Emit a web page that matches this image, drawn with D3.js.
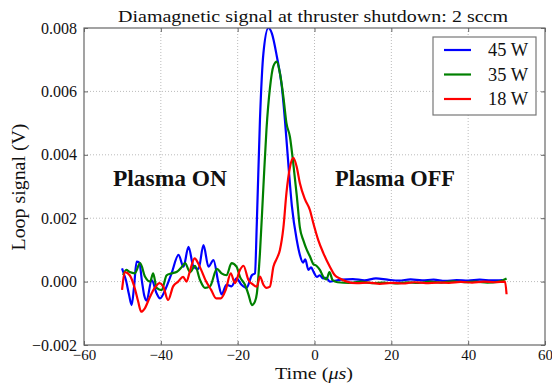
<!DOCTYPE html>
<html><head><meta charset="utf-8">
<script src="https://cdn.jsdelivr.net/npm/d3@7"></script>
<style>body{margin:0;background:#fff}svg{display:block}svg text{font-family:"Liberation Serif","Times New Roman",serif !important;fill:#111}</style>
</head><body><svg id="c" width="552" height="383"></svg>
<script>
const xTicks = [-60,-40,-20,0,20,40,60];
const yTicks = [-0.002,0,0.002,0.004,0.006,0.008];
const seriesNames = ["45 W","35 W","18 W"];
const seriesColors = ["#0000ff","#008000","#ff0000"];

const t45 = [-50.1,-49.5,-49.1,-48.3,-47.6,-47.0,-46.3,-45.6,-44.9,-44.3,-43.7,-42.4,-41.1,-40.2,-38.9,-37.2,-35.4,-34.1,-32.8,-31.5,-30.2,-28.9,-27.6,-26.3,-25.0,-24.2,-22.9,-21.6,-20.3,-19.0,-17.7,-16.3,-15.5,-15.0,-14.2,-13.3,-12.0,-11.1,-9.8,-8.5,-7.7,-6.8,-5.9,-4.6,-3.8,-3.0,-2.4,-1.6,-0.9,-0.2,0.6,1.4,2.2,3.0,4.0,5.0,7,10,13,16,19,22,25,28,31,34,37,40,43,46,49];
const v45 = [0.00042,0.0002,0.00005,-0.0004,-0.00074,-0.0002,0.00063,0.0006,0.0,-0.00045,-0.0006,0.00005,-0.00037,-0.00053,-0.00027,0.00026,0.00084,0.00047,0.0011,0.00047,0.0004,0.00115,0.00047,0.00068,-0.00005,-0.0004,-0.0001,-0.00015,0.0001,-0.0001,-0.0002,0.0002,0.00026,0.0019,0.0051,0.0072,0.0080,0.00783,0.0071,0.00615,0.0051,0.0037,0.0024,0.0013,0.00084,0.0006,0.0007,0.00037,0.00045,0.0003,0.00015,0.0002,0.0001,0.00012,0.0,0.00002,0.00006,0.00008,0.00004,0.0001,0.00006,0.00003,0.00007,0.00004,0.00006,0.00002,0.00005,0.00003,0.00006,0.00004,0.00005];

const t35 = [-49.8,-49.0,-48.1,-46.8,-45.4,-44.1,-42.8,-42.0,-41.1,-39.8,-38.5,-37.2,-35.8,-34.5,-33.7,-32.4,-31.1,-29.8,-28.5,-27.2,-25.4,-24.2,-22.9,-21.6,-20.3,-19.4,-18.1,-17.2,-16.3,-15.5,-15.0,-14.2,-13.3,-12.5,-11.6,-10.7,-9.8,-9.0,-8.1,-7.3,-6.4,-5.5,-4.6,-3.8,-2.9,-2.0,-1.2,-0.3,0.5,1.4,2.3,3.1,3.9,4.7,6,9,12,15,18,21,24,27,30,33,36,39,42,45,48,50];
const v35 = [0.0002,0.00037,0.0003,0.00026,0.00058,0.00015,0.0,0.00026,-0.0002,-0.00027,0.0002,0.00026,0.00031,0.00047,0.00058,0.0003,0.0005,0.00005,-0.0002,-0.00015,0.0004,0.00026,0.0002,0.00058,0.00047,0.00015,-0.0001,-0.0004,-0.00074,-0.00063,-0.00037,0.0009,0.003,0.0048,0.0061,0.0068,0.00694,0.00657,0.00583,0.005,0.00457,0.0037,0.0027,0.0017,0.0013,0.001,0.0008,0.00055,0.0005,0.00037,0.00015,0.00007,0.0003,0.00005,-0.00002,-0.00004,0.0,-0.00005,-0.00003,-0.00006,-0.00002,-0.00004,0.0,-0.00003,0.00001,-0.00002,0.0,-0.00003,0.0,0.0001];

const t18 = [-50.1,-49.3,-48.1,-46.8,-45.9,-45.1,-44.2,-42.9,-41.6,-40.3,-39.4,-38.1,-36.8,-35.5,-34.2,-33.3,-32.5,-31.2,-30.3,-29.5,-28.2,-26.9,-25.6,-24.4,-23.1,-21.8,-20.7,-19.4,-18.5,-17.2,-15.9,-15.0,-14.2,-13.3,-12.5,-11.6,-10.7,-9.8,-9.0,-8.1,-7.3,-6.4,-5.5,-4.6,-3.8,-2.5,-1.2,-0.3,1.0,2.3,4.0,5.3,6.6,8.4,11,14,17,20,23,26,29,32,35,38,41,44,47,49.6,50];
const v18 = [-0.00026,0.0003,0.0002,-0.0002,-0.00063,-0.00095,-0.00085,-0.0005,-0.0002,-0.00005,-0.00015,-0.00058,-0.00015,0.0,0.00015,0.0,0.0003,0.00073,0.00058,0.00037,0.0,-0.00026,-0.00053,-0.00053,-0.00026,0.00026,-0.00005,0.00037,0.0005,0.00005,-0.0001,-0.00016,0.00016,-0.0001,-0.0002,-0.00016,0.00047,0.00073,0.001,0.0017,0.0028,0.0036,0.0039,0.0036,0.0031,0.0026,0.00226,0.00184,0.0013,0.0009,0.00047,0.0002,0.0001,0.0,-0.00005,-0.00003,-0.00007,-0.00004,-0.00006,-0.00002,-0.00005,-0.00003,-0.00004,-0.00001,-0.00003,0.0,-0.00002,0.0,-0.0004];

const times = [t45,t35,t18];
const values = [v45,v35,v18];

const svg = d3.select("#c");
const L = 84, R = 545, T = 28, B = 345;
const x = d3.scaleLinear().domain([-60,60]).range([L,R]);
const y = d3.scaleLinear().domain([-0.002,0.008]).range([B,T]);
const frame = "#666";

// grid
const g = svg.append("g");
g.selectAll("line.gx").data(xTicks.slice(1,-1)).join("line")
  .attr("x1",d=>x(d)).attr("x2",d=>x(d)).attr("y1",T).attr("y2",B)
  .attr("stroke","#bbb").attr("stroke-width",1).attr("stroke-dasharray","1,2");
g.selectAll("line.gy").data(yTicks.slice(1,-1)).join("line")
  .attr("y1",d=>y(d)).attr("y2",d=>y(d)).attr("x1",L).attr("x2",R)
  .attr("stroke","#bbb").attr("stroke-width",1).attr("stroke-dasharray","1,2");

// clip
svg.append("clipPath").attr("id","clip").append("rect").attr("x",L).attr("y",T).attr("width",R-L).attr("height",B-T);

const line = d3.line().x(d=>x(d[0])).y(d=>y(d[1])).curve(d3.curveMonotoneX);
const pg = svg.append("g").attr("clip-path","url(#clip)");
seriesNames.forEach((n,i)=>{
  const pts = times[i].map((t,j)=>[t,values[i][j]]);
  pg.append("path").datum(pts).attr("d",line).attr("fill","none")
    .attr("stroke",seriesColors[i]).attr("stroke-width",2.2).attr("stroke-linejoin","round");
});

// axes
function styleAxis(a){a.select(".domain").remove();a.selectAll(".tick line").attr("stroke",frame);a.attr("font-family",null);}
const xf = d3.format("d"), yf = d3.format(".3f");
svg.append("g").attr("transform",`translate(0,${B})`).call(d3.axisBottom(x).tickValues(xTicks).tickFormat(xf).tickSize(-4).tickPadding(4))
  .call(styleAxis).call(a=>a.selectAll("text").attr("font-size",15).attr("fill","#111"));
svg.append("g").attr("transform",`translate(0,${T})`).call(d3.axisTop(x).tickValues(xTicks).tickFormat("").tickSize(-4)).call(styleAxis);
svg.append("g").attr("transform",`translate(${L},0)`).call(d3.axisLeft(y).tickValues(yTicks).tickFormat(yf).tickSize(-4).tickPadding(7))
  .call(styleAxis).call(a=>a.selectAll("text").attr("font-size",16).attr("fill","#111"));
svg.append("g").attr("transform",`translate(${R},0)`).call(d3.axisRight(y).tickValues(yTicks).tickFormat("").tickSize(-4)).call(styleAxis);

svg.append("rect").attr("x",L).attr("y",T).attr("width",R-L).attr("height",B-T).attr("fill","none").attr("stroke",frame).attr("stroke-width",1.2);

// texts
function fit(sel,w){sel.attr("textLength",w).attr("lengthAdjust","spacingAndGlyphs");return sel;}
fit(svg.append("text").attr("x",313).attr("y",22).attr("text-anchor","middle").attr("font-size",17).text("Diamagnetic signal at thruster shutdown: 2 sccm"),390);
const xl = svg.append("text").attr("x",314).attr("y",379).attr("text-anchor","middle").attr("font-size",16);
xl.append("tspan").text("Time  (");
xl.append("tspan").attr("font-style","italic").text("μs");
xl.append("tspan").text(")");
fit(xl,78);
fit(svg.append("text").attr("transform","translate(25,187) rotate(-90)").attr("text-anchor","middle").attr("font-size",18).text("Loop signal  (V)"),127);

fit(svg.append("text").attr("x",113).attr("y",186).attr("font-size",24).attr("font-weight","bold").text("Plasma ON"),114);
fit(svg.append("text").attr("x",335).attr("y",186).attr("font-size",24).attr("font-weight","bold").text("Plasma OFF"),120);

// legend
const lg = svg.append("g");
lg.append("rect").attr("x",433).attr("y",37).attr("width",103).attr("height",78).attr("fill","#fff").attr("stroke","#777").attr("stroke-width",1.2);
seriesNames.forEach((n,i)=>{
  const yy = 50 + i*24.5;
  lg.append("line").attr("x1",444).attr("x2",471).attr("y1",yy).attr("y2",yy).attr("stroke",seriesColors[i]).attr("stroke-width",2.2);
  fit(lg.append("text").attr("x",488).attr("y",yy+6).attr("font-size",18).text(n),40);
});
</script></body></html>
